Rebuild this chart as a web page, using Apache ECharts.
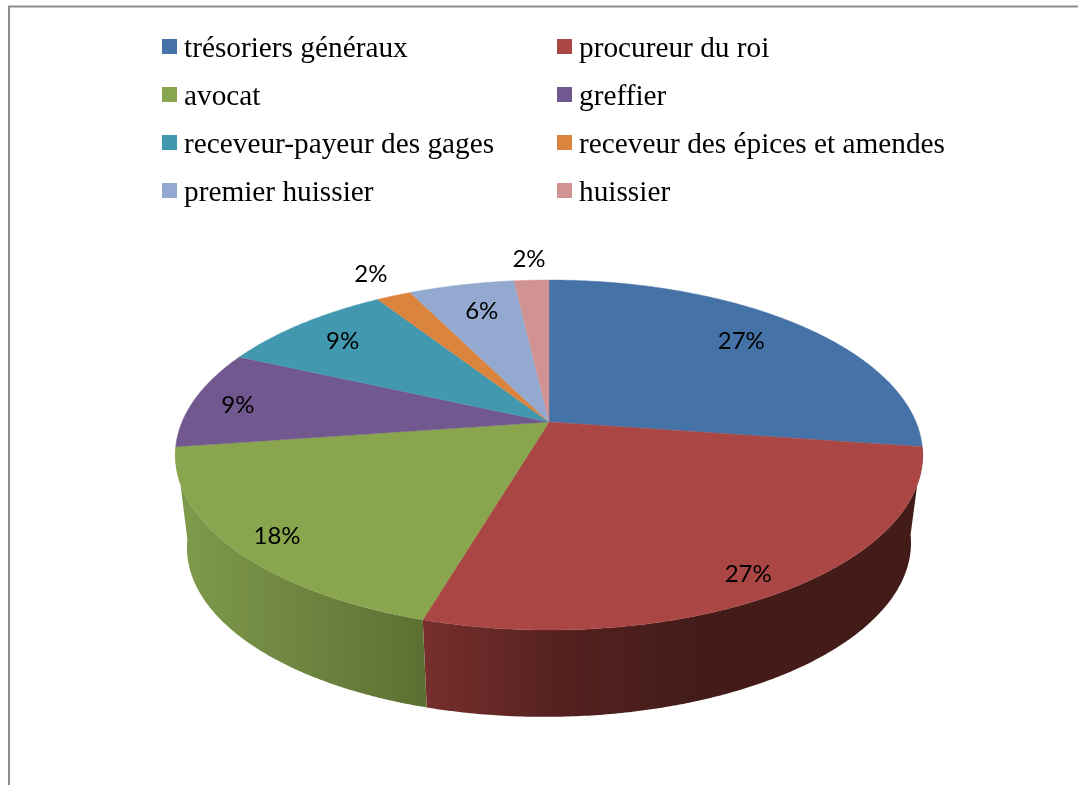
<!DOCTYPE html>
<html>
<head>
<meta charset="utf-8">
<style>html,body{margin:0;padding:0;background:#fff}#c{width:1078px;height:785px}</style>
<script src="https://cdn.jsdelivr.net/npm/echarts@6/dist/echarts.min.js"></script>
</head>
<body>
<div id="c"></div>
<script>
const categories = ['trésoriers généraux','procureur du roi','avocat','greffier','receveur-payeur des gages','receveur des épices et amendes','premier huissier','huissier'];
const values = [27.3,27.3,18.2,9.1,9.1,1.8,5.5,1.8];
const labels = ['27%','27%','18%','9%','9%','2%','6%','2%'];
const colors = ['#4572A7','#AA4643','#89A54E','#71588F','#4198AF','#DB843D','#93A9CF','#D19392'];
const labelRadius = [.78,.9,.89,.87,.81,1.2,.78,1.18];
const labelTurn = [-1.5,1.7,-1.5,-1.5,-.6,.5,.8,0];

// perspective projection of the pie's top and bottom discs
const topDisc = {cx:549, cy:422, a:367, b:168.8, k:.1886, skew:0};
const botDisc = {cx:549, cy:513, a:355.5, b:165.4, k:.1886, skew:2.5};
function project(d, deg, r){
  const t = deg*Math.PI/180, u = r*Math.sin(t), v = r*Math.cos(t), w = 1+d.k*v;
  return [d.cx + d.a*u/w, d.cy - d.b*v/w - d.skew*u];
}
const total = values.reduce((s,v)=>s+v,0);
function arc(d, from, to){
  const pts=[], n=Math.max(2,Math.ceil((to-from)*2));
  for(let i=0;i<=n;i++) pts.push(project(d, from+(to-from)*i/n, 1));
  return pts;
}
function linear(stops){
  return {type:'linear',x:0,y:0,x2:1,y2:0,colorStops:stops.map(s=>({offset:s[0],color:s[1]}))};
}
const wallFill = {
  1: linear([[0,'#772f2d'],[.28,'#54211f'],[.55,'#431c19'],[1,'#431c19']]),
  2: linear([[0,'#7f9b4b'],[.5,'#6e8540'],[1,'#5c6f32']])
};
function renderSlice(params, api){
  const i = params.seriesIndex, val = api.value(0);
  let before = 0; for(let j=0;j<i;j++) before += values[j];
  const from = before/total*360, to = (before+val)/total*360, mid=(from+to)/2;
  const children = [];
  if(wallFill[i]){
    children.push({type:'polygon',z2:1,silent:true,
      shape:{points:arc(topDisc,from,to).concat(arc(botDisc,from,to).reverse())},
      style:{fill:wallFill[i]}});
  }
  children.push({type:'polygon',z2:2,silent:true,
    shape:{points:[[topDisc.cx,topDisc.cy]].concat(arc(topDisc,from,to))},
    style:{fill:colors[i],stroke:colors[i],lineWidth:.4}});
  const p = project(topDisc, mid+labelTurn[i], labelRadius[i]);
  children.push({type:'text',z2:3,silent:true,
    style:{x:p[0],y:p[1],text:labels[i],align:'center',verticalAlign:'middle',
      font:'24px Lato, "Open Sans", sans-serif',fill:'#000'}});
  return {type:'group',children};
}
// square in the upper part of the icon box: lifts the swatch slightly relative to its text
const legendBase = {orient:'vertical',itemWidth:15,itemHeight:20,itemGap:18,selectedMode:false,
  icon:'path://M0 0L15 0L15 15L0 15ZM0 20L0 20Z',
  padding:0,textStyle:{fontFamily:'"Liberation Serif", serif',fontSize:29.3,color:'#000',lineHeight:30,padding:[0,0,0,2]}};
const chart = echarts.init(document.getElementById('c'),null,{renderer:'canvas'});
chart.setOption({
  animation:false,
  backgroundColor:'#fff',
  legend:[
    Object.assign({},legendBase,{left:162,top:34,data:categories.filter((c,i)=>i%2===0)}),
    Object.assign({},legendBase,{left:557,top:34,data:categories.filter((c,i)=>i%2===1)})
  ],
  graphic:[{type:'polyline',silent:true,shape:{points:[[9,785],[9,6.5],[1078,6.5]]},style:{stroke:'#8c8c8c',lineWidth:2,fill:null}}],
  series:categories.map((name,i)=>({
    type:'custom',name,coordinateSystem:'none',silent:true,
    itemStyle:{color:colors[i]},
    data:[[values[i]]],
    renderItem:renderSlice
  }))
});
</script>
</body>
</html>
